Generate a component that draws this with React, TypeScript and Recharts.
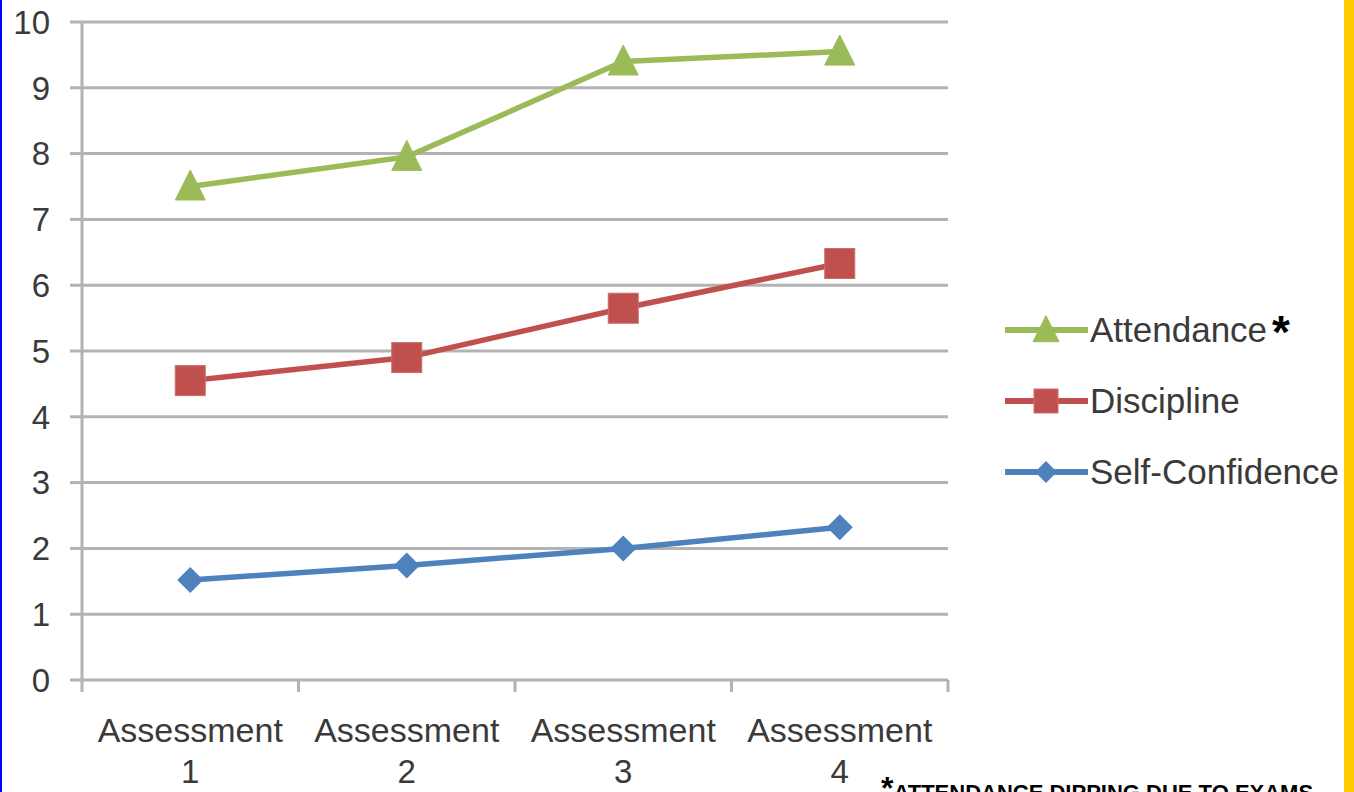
import React from "react";
import { LineChart, Line, XAxis, YAxis, CartesianGrid } from "recharts";

const categories = ["1", "2", "3", "4"];
const attendance = [7.5, 7.95, 9.4, 9.55];
const discipline = [4.55, 4.9, 5.65, 6.33];
const selfConfidence = [1.52, 1.74, 2.0, 2.32];
const yTicks = [0, 1, 2, 3, 4, 5, 6, 7, 8, 9, 10];

const GREEN = "#9BBB59";
const RED = "#C0504D";
const BLUE = "#4F81BD";
const GRID = "#b3b3b3";
const TEXT = "#3a3a3a";
const FONT = "'Liberation Sans', Arial, sans-serif";

const W = 1354;
const H = 792;
const PLOT_LEFT = 82;
const PLOT_RIGHT = 948;
const PLOT_TOP = 22;
const PLOT_BOTTOM = 680;
const HALF_BAND = (PLOT_RIGHT - PLOT_LEFT) / (categories.length * 2);

const data = categories.map((c, i) => ({
  name: c,
  attendance: attendance[i],
  discipline: discipline[i],
  selfConfidence: selfConfidence[i],
}));

const Triangle = ({ cx, cy, s, color }: any) => (
  <path
    d={`M${cx},${cy - s * 0.55} L${cx + s / 2},${cy + s * 0.45} L${cx - s / 2},${cy + s * 0.45} Z`}
    fill={color}
    stroke={color}
    strokeWidth={1}
  />
);
const Square = ({ cx, cy, s, color }: any) => (
  <rect x={cx - s / 2} y={cy - s / 2} width={s} height={s} fill={color} stroke="#c96e6b" strokeWidth={1} />
);
const Diamond = ({ cx, cy, s, color }: any) => (
  <path
    d={`M${cx},${cy - s / 2} L${cx + s / 2},${cy} L${cx},${cy + s / 2} L${cx - s / 2},${cy} Z`}
    fill={color}
  />
);

const triDot = (p: any) => <Triangle key={p.index} cx={p.cx} cy={p.cy} s={30} color={GREEN} />;
const sqDot = (p: any) => <Square key={p.index} cx={p.cx} cy={p.cy} s={30} color={RED} />;
const diaDot = (p: any) => <Diamond key={p.index} cx={p.cx} cy={p.cy} s={26} color={BLUE} />;

const XTick = (props: any) => {
  const { x, y, payload, index } = props;
  const last = index === categories.length - 1;
  return (
    <g>
      <line x1={x - HALF_BAND} y1={y} x2={x - HALF_BAND} y2={y + 12} stroke={GRID} strokeWidth={3} />
      {last && <line x1={x + HALF_BAND} y1={y} x2={x + HALF_BAND} y2={y + 12} stroke={GRID} strokeWidth={3} />}
      <text x={x} y={y + 62} textAnchor="middle" fontSize={34} fill={TEXT} fontFamily={FONT}>
        Assessment
      </text>
      <text x={x} y={y + 103} textAnchor="middle" fontSize={33} fill={TEXT} fontFamily={FONT}>
        {payload.value}
      </text>
    </g>
  );
};

const legendItems = [
  { label: "Attendance", color: GREEN, marker: "tri", star: true },
  { label: "Discipline", color: RED, marker: "sq", star: false },
  { label: "Self-Confidence", color: BLUE, marker: "dia", star: false },
];

const ChartLegend = () => (
  <svg width={340} height={220} style={{ position: "absolute", left: 1005, top: 300 }}>
    {legendItems.map((it, i) => {
      const cy = 30 + i * 71;
      return (
        <g key={it.label}>
          <line x1={0} y1={cy} x2={83} y2={cy} stroke={it.color} strokeWidth={6} />
          {it.marker === "tri" && <Triangle cx={41} cy={cy} s={26} color={it.color} />}
          {it.marker === "sq" && <Square cx={41} cy={cy} s={24} color={it.color} />}
          {it.marker === "dia" && <Diamond cx={41} cy={cy} s={22} color={it.color} />}
          <text x={85} y={cy + 12} fontSize={35} fill={TEXT} fontFamily={FONT}>
            {it.label}
          </text>
          {it.star && (
            <text x={267} y={cy + 18} fontSize={46} fontWeight="bold" fill="#000" fontFamily={FONT}>
              *
            </text>
          )}
        </g>
      );
    })}
  </svg>
);

export default function App() {
  return (
    <div
      style={{
        position: "absolute",
        left: 0,
        top: 0,
        width: W,
        height: H,
        overflow: "hidden",
        background: "#fff",
      }}
    >
      <div style={{ position: "absolute", left: 0, top: 0, width: 2, height: H, background: "#0000ff" }} />
      <div style={{ position: "absolute", left: 1344, top: 0, width: 10, height: H, background: "#FFCC00" }} />
      <LineChart
        width={W}
        height={H}
        data={data}
        margin={{ top: PLOT_TOP, right: W - PLOT_RIGHT, bottom: 0, left: 0 }}
      >
        <CartesianGrid vertical={false} stroke={GRID} strokeWidth={3} />
        <XAxis
          dataKey="name"
          height={H - PLOT_BOTTOM}
          padding={{ left: HALF_BAND, right: HALF_BAND }}
          axisLine={false}
          tickLine={false}
          tickSize={0}
          tickMargin={0}
          tick={<XTick />}
          interval={0}
        />
        <YAxis
          width={PLOT_LEFT}
          domain={[0, 10]}
          ticks={yTicks}
          interval={0}
          axisLine={{ stroke: GRID, strokeWidth: 3 }}
          tickLine={{ stroke: GRID, strokeWidth: 3 }}
          tickSize={12}
          tickMargin={20}
          tick={{ fontSize: 33, fill: TEXT, fontFamily: FONT }}
        />
        <Line
          dataKey="attendance"
          name="Attendance"
          stroke={GREEN}
          strokeWidth={5.5}
          dot={triDot}
          isAnimationActive={false}
        />
        <Line
          dataKey="discipline"
          name="Discipline"
          stroke={RED}
          strokeWidth={5.5}
          dot={sqDot}
          isAnimationActive={false}
        />
        <Line
          dataKey="selfConfidence"
          name="Self-Confidence"
          stroke={BLUE}
          strokeWidth={5.5}
          dot={diaDot}
          isAnimationActive={false}
        />
      </LineChart>
      <ChartLegend />
      <div
        style={{
          position: "absolute",
          left: 881,
          top: 770,
          whiteSpace: "nowrap",
          fontFamily: FONT,
          fontWeight: "bold",
          color: "#000",
        }}
      >
        <span style={{ fontSize: 32, verticalAlign: "top" }}>*</span>
        <span style={{ fontSize: 22, position: "relative", top: 10 }}>ATTENDANCE DIPPING DUE TO EXAMS</span>
      </div>
    </div>
  );
}
